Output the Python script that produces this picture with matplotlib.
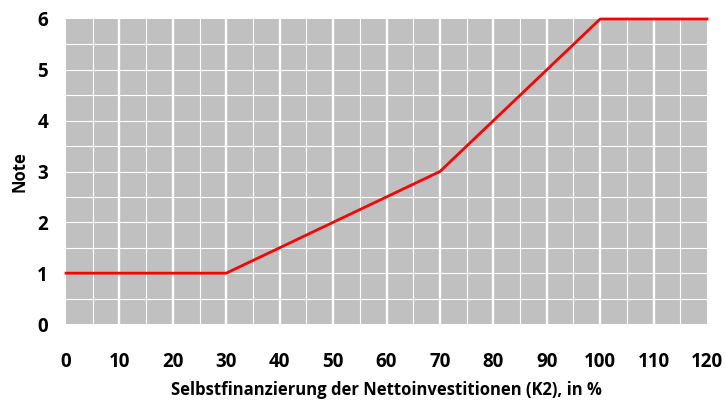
import matplotlib
matplotlib.use("Agg")
import matplotlib.pyplot as plt
import numpy as np

# Data
x_vals = [0, 30, 70, 100, 120]
note_vals = [1, 1, 3, 6, 6]
x_ticks = [0, 10, 20, 30, 40, 50, 60, 70, 80, 90, 100, 110, 120]
y_ticks = [0, 1, 2, 3, 4, 5, 6]

plt.rcParams['font.family'] = ['Open Sans', 'DejaVu Sans']
plt.rcParams['font.weight'] = 'bold'

fig = plt.figure(figsize=(7.26, 4.03), dpi=100)
ax = fig.add_axes([66/726, 79/403, (707-66)/726, (324-19)/403])
ax.set_facecolor('#c0c0c0')
ax.set_xlim(0, 120)
ax.set_ylim(0, 6)
for s in ax.spines.values():
    s.set_visible(False)

# grid
for xv in np.arange(0, 121, 5):
    if xv in (0, 120):
        continue
    lw = 1.7 if xv % 10 == 0 else 0.8
    ax.axvline(xv, color='white', lw=lw, zorder=1)
for yv in np.arange(0.5, 6, 0.5):
    ax.axhline(yv, color='white', lw=0.8, zorder=1)

ax.plot(x_vals, note_vals, color='#ff0000', lw=2.0, zorder=3, clip_on=False,
        solid_joinstyle='round')

ax.set_xticks(x_ticks)
ax.set_yticks(y_ticks)
ax.tick_params(axis='both', length=0, labelsize=13.5)
ax.tick_params(axis='x', pad=20)
ax.tick_params(axis='y', pad=13)
for lab in ax.get_xticklabels() + ax.get_yticklabels():
    lab.set_fontweight('bold')

fig.text(386/726, 1 - 390/403, 'Selbstfinanzierung der Nettoinvestitionen (K2), in %',
         fontsize=12, fontweight='bold', ha='center', va='center')
fig.text(19/726, 1 - 172/403, 'Note', fontsize=12, fontweight='bold',
         ha='center', va='center', rotation=90)

fig.savefig('out.png', dpi=100)
